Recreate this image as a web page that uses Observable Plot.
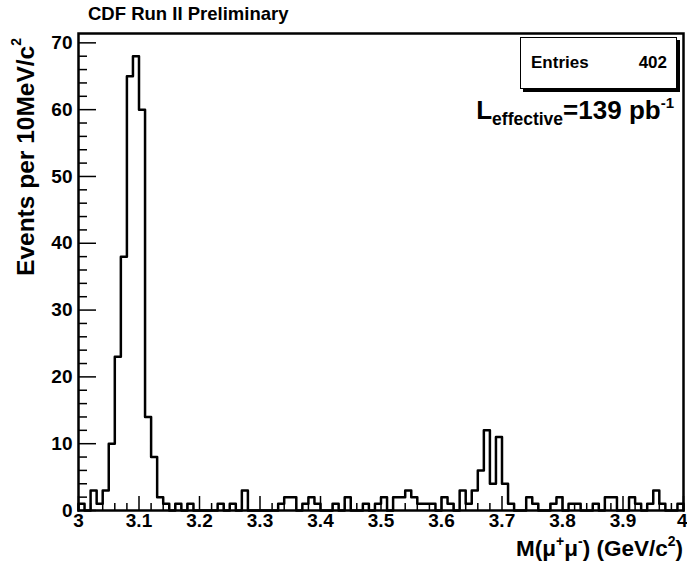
<!DOCTYPE html>
<html><head><meta charset="utf-8">
<script src="https://cdn.jsdelivr.net/npm/d3@7"></script>
<script src="https://cdn.jsdelivr.net/npm/@observablehq/plot@0.6"></script>
<style>
body{margin:0;background:#fff;}
#wrap{position:relative;width:687px;height:561px;font-family:"Liberation Sans",Arial,Helvetica,sans-serif;font-weight:bold;color:#000;overflow:hidden;}
#wrap svg{position:absolute;left:0;top:0;}
.ov{position:absolute;white-space:nowrap;line-height:1;}
sup,sub{line-height:0;}
</style></head><body><div id="wrap"></div>
<script>
// Histogram: 100 bins of 10 MeV from 3.00 to 4.00 GeV
const binStart = 3.0;
const binWidth = 0.01;
const counts = [
  1, 0, 3, 1, 3, 10, 23, 38, 65, 68,
  60, 14, 8, 2, 1, 0, 1, 0, 1, 0,
  0, 0, 0, 1, 0, 1, 0, 3, 0, 0,
  0, 0, 0, 1, 2, 2, 0, 1, 2, 1,
  0, 0, 1, 0, 2, 0, 0, 1, 0, 1,
  2, 0, 2, 2, 3, 2, 1, 1, 1, 0,
  2, 1, 0, 3, 1, 3, 6, 12, 4, 11,
  4, 1, 0, 0, 2, 1, 0, 0, 1, 2,
  0, 1, 1, 0, 0, 1, 0, 2, 2, 0,
  0, 2, 1, 0, 1, 3, 1, 0, 0, 1
];
const xTickValues = [3, 3.1, 3.2, 3.3, 3.4, 3.5, 3.6, 3.7, 3.8, 3.9, 4];
const xTickLabels = ["3", "3.1", "3.2", "3.3", "3.4", "3.5", "3.6", "3.7", "3.8", "3.9", "4"];
const yTickValues = [0, 10, 20, 30, 40, 50, 60, 70];
const yTickLabels = ["0", "10", "20", "30", "40", "50", "60", "70"];
const xMinorStep = 0.02;
const yMinorStep = 2;
const yMax = 71.4;
const titleText = "CDF Run II Preliminary";
const entriesLabel = "Entries";
const entriesValue = 402;
const lumiValue = "139";

const W = 687, H = 561, mL = 78, mR = 4, mT = 33, mB = 51;
const fW = W - mL - mR, fH = H - mT - mB;

const xMinor = d3.range(0, 51).map(i => binStart + i * xMinorStep).filter(v => !xTickValues.some(t => Math.abs(t - v) < 1e-9));
const yMinor = d3.range(0, yMax, yMinorStep).filter(v => v % 10 !== 0);

const steps = [{x: binStart, y: 0}];
counts.forEach((c, i) => steps.push({x: binStart + i * binWidth, y: c}));
steps.push({x: binStart + counts.length * binWidth, y: counts[counts.length - 1]});
steps.push({x: binStart + counts.length * binWidth, y: 0});

const xFmt = new Map(xTickValues.map((v, i) => [v, xTickLabels[i]]));
const yFmt = new Map(yTickValues.map((v, i) => [v, yTickLabels[i]]));
const xInner = xTickValues.slice(0, -1);
const xLast = xTickValues.slice(-1);

const chart = Plot.plot({
  width: W, height: H,
  marginLeft: mL, marginRight: mR, marginTop: mT, marginBottom: mB,
  style: {fontFamily: '"Liberation Sans", Arial, sans-serif', fontWeight: "bold", fontSize: "19px", color: "#000", background: "transparent"},
  x: {domain: [3, 4]},
  y: {domain: [0, yMax]},
  marks: [
    Plot.ruleX(xTickValues, {x: d => d, insetTop: fH - 14, stroke: "#000", strokeWidth: 1.5}),
    Plot.ruleX(xMinor, {x: d => d, insetTop: fH - 7, stroke: "#000", strokeWidth: 1.5}),
    Plot.ruleY(yTickValues, {y: d => d, insetRight: fW - 18, stroke: "#000", strokeWidth: 1.5}),
    Plot.ruleY(yMinor, {y: d => d, insetRight: fW - 9, stroke: "#000", strokeWidth: 1.5}),
    Plot.line(steps, {x: "x", y: "y", curve: "step-after", stroke: "#000", strokeWidth: 2.5}),
    Plot.frame({stroke: "#000", strokeWidth: 2.5}),
    Plot.axisX(xInner, {tickSize: 0, tickPadding: 3, tickFormat: d => xFmt.get(d), label: null, fill: "#000"}),
    Plot.axisX(xLast, {tickSize: 0, tickPadding: 3, tickFormat: d => xFmt.get(d), label: null, fill: "#000", textAnchor: "end", dx: 4}),
    Plot.axisY(yTickValues, {tickSize: 0, tickPadding: 6, tickFormat: d => yFmt.get(d), label: null, fill: "#000"})
  ]
});
const wrap = document.getElementById("wrap");
wrap.appendChild(chart);

function ov(html, css) {
  const d = document.createElement("div");
  d.className = "ov";
  d.innerHTML = html;
  Object.assign(d.style, css);
  wrap.appendChild(d);
  return d;
}
ov(titleText, {left: "88px", top: "5px", fontSize: "18.5px"});
ov(`<span style="position:absolute;left:10px;top:16px">${entriesLabel}</span><span style="position:absolute;right:9px;top:16px">${entriesValue}</span>`,
  {left: "520px", top: "37px", width: "155px", height: "50px", border: "1.5px solid #000", boxShadow: "3px 3px 0 #000", background: "#fff", fontSize: "17px"});
ov(`L<sub style="font-size:17.5px;vertical-align:-6px">effective</sub>=${lumiValue} pb<sup style="font-size:15px;vertical-align:11px">-1</sup>`,
  {right: "13px", top: "97px", fontSize: "26px"});
ov(`M(&mu;<sup style="font-size:14px;vertical-align:10px">+</sup>&mu;<sup style="font-size:14px;vertical-align:10px">-</sup>) (GeV/c<sup style="font-size:14px;vertical-align:10px">2</sup>)`,
  {right: "4px", top: "538px", fontSize: "22.5px"});
ov(`Events per 10MeV/c<sup style="font-size:14px;vertical-align:10px">2</sup>`,
  {left: "14px", top: "38px", fontSize: "24.5px", writingMode: "vertical-rl", transform: "rotate(180deg)"});
</script></body></html>
